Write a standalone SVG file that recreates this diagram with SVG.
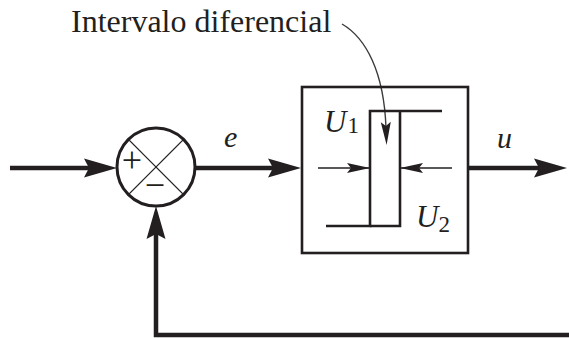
<svg xmlns="http://www.w3.org/2000/svg" width="569" height="338" viewBox="0 0 569 338">
<style>
.thick{fill:none;stroke:#231f20;stroke-width:4.5;stroke-linejoin:miter}
.thin{fill:none;stroke:#231f20;stroke-width:1.3}
.box{fill:none;stroke:#231f20;stroke-width:2.6}
.t{font-family:"Liberation Serif","Times New Roman",serif;fill:#231f20}
.it{font-style:italic}
</style>
<defs>
<marker id="big" markerUnits="userSpaceOnUse" markerWidth="60" markerHeight="30" viewBox="-20 -15 60 30" refX="0" refY="0" orient="auto" overflow="visible">
<path d="M20,0 L-13,-9.5 L-8,0 L-13,9.5 Z" fill="#231f20"/>
</marker>
<marker id="small" markerUnits="userSpaceOnUse" markerWidth="40" markerHeight="20" viewBox="-30 -10 40 20" refX="0" refY="0" orient="auto" overflow="visible">
<path d="M0,0 L-23,-5 L-19,0 L-23,5 Z" fill="#231f20"/>
</marker>
<marker id="curvehead" markerUnits="userSpaceOnUse" markerWidth="40" markerHeight="20" viewBox="-10 -10 40 20" refX="0" refY="0" orient="auto" overflow="visible">
<path d="M17,0 L-6,-5 L-2,0 L-6,5 Z" fill="#231f20"/>
</marker>
</defs>
<g id="connectors">
<line class="thick" x1="10" y1="168" x2="97" y2="168" marker-end="url(#big)"/>
<line class="thick" x1="195" y1="168" x2="281" y2="168" marker-end="url(#big)"/>
<line class="thick" x1="469" y1="168" x2="547" y2="168" marker-end="url(#big)"/>
<path class="thick" d="M569,335 L156,335 L156,226" marker-end="url(#big)"/>
<path d="M342,24 C366,38 384,72 386,128" fill="none" stroke="#3a3a3a" stroke-width="1.4" marker-end="url(#curvehead)"/>
</g>
<g id="label-intervalo">
<text class="t" x="71" y="32" font-size="32">Intervalo diferencial</text>
</g>
<g id="sum">
<circle cx="156" cy="167" r="39" fill="#fff" stroke="#231f20" stroke-width="3"/>
<line class="thin" x1="128.4" y1="139.4" x2="183.6" y2="194.6"/>
<line class="thin" x1="183.6" y1="139.4" x2="128.4" y2="194.6"/>
<text class="t" x="132" y="172" font-size="36" text-anchor="middle">+</text>
<text class="t" x="155" y="197" font-size="36" text-anchor="middle">−</text>
</g>
<g id="label-e">
<text class="t it" x="224" y="147" font-size="30">e</text>
</g>
<g id="relay">
<rect class="box" x="302" y="87" width="166" height="166"/>
<path class="box" d="M442,111 L370,111 L370,226 L326,226"/>
<path class="box" d="M400,111 L400,226 L370,226"/>
<line class="thin" x1="318" y1="168" x2="370" y2="168" marker-end="url(#small)"/>
<line class="thin" x1="452" y1="168" x2="400" y2="168" marker-end="url(#small)"/>
<text class="t" x="324" y="132" font-size="31"><tspan class="it">U</tspan><tspan font-size="23" dx="1" dy="1">1</tspan></text>
<text class="t" x="416" y="227" font-size="31"><tspan class="it">U</tspan><tspan font-size="23" dx="0" dy="5">2</tspan></text>
</g>
<g id="label-u">
<text class="t it" x="497" y="148" font-size="30">u</text>
</g>
</svg>
